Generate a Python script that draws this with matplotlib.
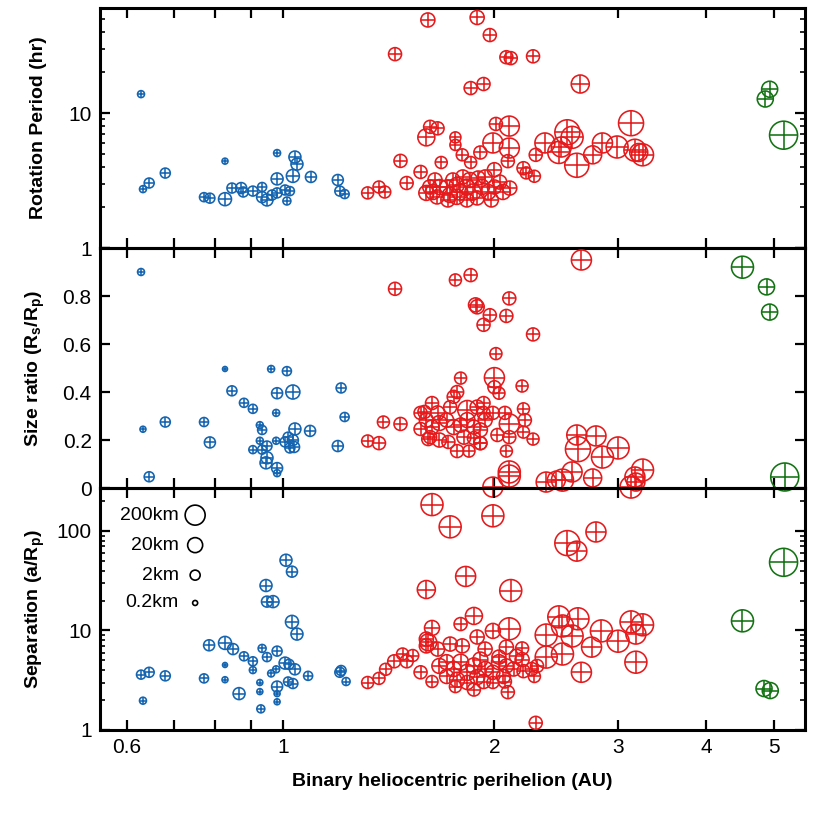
import numpy as np
import matplotlib.pyplot as plt

plt.rcParams['font.family'] = ['Liberation Sans', 'DejaVu Sans']
plt.rcParams['mathtext.fontset'] = 'custom'
plt.rcParams['mathtext.bf'] = 'Liberation Sans:bold'
plt.rcParams['mathtext.rm'] = 'Liberation Sans'
plt.rcParams['mathtext.default'] = 'bf'

BLUE = "#1464b0"
RED = "#e41a1c"
GREEN = "#137313"

# ---- rotation period panel ----
top_nea_q = [0.628, 0.632, 0.645, 0.68, 0.827, 0.772, 0.787, 0.827, 0.846, 0.872,
             0.878, 0.906, 0.934, 0.934, 0.949, 0.965, 0.981, 0.981, 0.981, 1.007,
             1.023, 1.013, 1.033, 1.040, 1.047, 1.096, 1.197, 1.205, 1.224]
top_nea_per = [13.8, 2.73, 3.03, 3.59, 4.4, 2.38, 2.34, 2.3, 2.78, 2.78,
               2.6, 2.64, 2.83, 2.38, 2.27, 2.47, 2.56, 3.25, 5.05, 2.69,
               2.64, 2.23, 3.42, 4.72, 4.18, 3.36, 3.19, 2.64, 2.51]
top_nea_d = [0.5, 0.5, 2, 2, 0.32, 1.3, 2, 8, 2, 3.2,
             2, 2, 1.3, 3.2, 5, 2, 2, 5, 0.5, 2,
             1.3, 0.8, 8, 5, 5, 3.2, 3.2, 2, 1.3]

top_mba_q = [1.32, 1.37, 1.396, 1.47, 1.50, 1.57, 1.60, 1.62, 1.66, 1.608,
             1.444, 1.89, 1.97, 2.08, 2.11, 2.27, 1.85, 1.93, 2.65, 1.68,
             1.76, 1.76, 1.80, 1.85, 1.91, 1.99, 2.01, 2.10, 2.10, 2.09,
             2.0, 2.20, 2.22, 2.28, 2.29, 2.36, 2.47, 2.54, 2.58, 2.49,
             2.62, 2.76, 2.85, 2.99, 3.13, 3.17, 3.25, 3.21,
             1.618, 1.635, 1.646, 1.672, 1.71, 1.728, 1.745, 1.768, 1.785, 1.803,
             1.827, 1.845, 1.864, 1.89, 1.896, 1.92, 1.94, 1.96, 1.98, 2.00,
             2.035, 2.056, 2.103, 1.657, 1.60, 1.717, 1.768, 1.827]
top_mba_per = [2.56, 2.83, 2.6, 4.42, 3.03, 3.66, 6.6, 7.9, 7.7, 48.9,
               27.3, 51, 37.8, 25.9, 25.5, 26.3, 15.3, 16.4, 16.4, 4.3,
               6.6, 5.8, 4.9, 4.3, 5.1, 6.0, 8.3, 8.0, 5.5, 4.4,
               3.8, 3.9, 3.6, 3.4, 4.9, 6.0, 5.1, 7.2, 6.6, 5.6,
               4.1, 4.9, 6.0, 5.6, 8.4, 5.3, 4.9, 5.1,
               2.83, 2.60, 3.19, 2.83, 2.83, 2.47, 3.19, 2.93, 2.60, 3.36,
               2.83, 3.19, 2.60, 2.35, 3.30, 2.83, 3.36, 2.60, 2.27, 2.83,
               3.08, 2.60, 2.78, 2.39, 2.56, 2.27, 2.39, 2.27]
top_mba_d = [5, 5, 5, 8, 8, 8, 50, 8, 8, 13,
             8, 13, 8, 8, 8, 8, 8, 8, 80, 5,
             3.2, 3.2, 5, 5, 8, 200, 8, 200, 200, 8,
             13, 8, 5, 5, 8, 200, 500, 2000, 500, 200,
             1300, 80, 200, 500, 2000, 500, 500, 80,
             13, 20, 13, 20, 13, 20, 13, 20, 32, 13,
             32, 20, 32, 13, 13, 20, 13, 20, 13, 13,
             13, 20, 13, 13, 20, 13, 20, 13]

top_tro_q = [4.93, 4.86, 5.16]
top_tro_per = [15.0, 12.7, 6.85]
top_tro_d = [32, 32, 8000]

# ---- size ratio panel ----
mid_nea_q = [0.628, 0.632, 0.645, 0.68, 0.772, 0.787, 0.827, 0.846, 0.88, 0.906,
             0.927, 0.934, 0.927, 0.906, 0.934, 0.949, 0.949, 0.946, 0.962, 0.978,
             0.981, 0.978, 0.981, 0.981, 1.013, 1.033, 1.007, 1.017, 1.023, 1.033,
             1.037, 1.040, 1.093, 1.21, 1.224, 1.197]
mid_nea_ratio = [0.90, 0.245, 0.047, 0.275, 0.275, 0.19, 0.496, 0.405, 0.355, 0.33,
                 0.262, 0.242, 0.197, 0.16, 0.16, 0.175, 0.126, 0.105, 0.496, 0.313,
                 0.395, 0.197, 0.083, 0.062, 0.487, 0.40, 0.192, 0.212, 0.167, 0.20,
                 0.171, 0.246, 0.238, 0.417, 0.296, 0.175]
mid_nea_d = [0.5, 0.32, 2, 2, 1.3, 3.2, 0.2, 2, 1.3, 1.3,
             0.5, 1.3, 0.5, 0.8, 1.3, 2, 5, 5, 0.5, 0.5,
             3.2, 0.5, 3.2, 0.5, 1.3, 13, 2, 2, 2, 3.2,
             3.2, 5, 3.2, 2, 1.3, 3.2]

mid_mba_q = [1.444, 1.32, 1.37, 1.39, 1.47, 1.57, 1.61, 1.76, 1.85, 2.66,
             1.88, 1.89, 1.97, 1.93, 2.08, 2.10, 2.27, 2.01, 2.00, 2.00,
             2.03, 2.19, 1.79, 1.77, 1.75, 1.63, 1.59, 1.93, 1.83, 2.07,
             2.20, 2.10, 2.21, 2.20, 2.27, 2.10, 2.02, 2.08, 1.91, 1.84,
             1.77,
             1.60, 1.63, 1.67, 1.71, 1.75, 1.79, 1.83, 1.87, 1.91, 1.94,
             1.62, 1.67, 1.72, 1.81, 1.87, 1.91, 1.73, 1.89, 1.93, 1.99,
             1.57, 1.66,
             2.10, 2.10, 1.99, 2.37, 2.45, 2.50, 2.58, 2.76, 2.62, 2.79,
             2.63, 2.85, 3.00, 3.13, 3.17, 3.25, 3.18]
mid_mba_ratio = [0.83, 0.196, 0.187, 0.275, 0.267, 0.246, 0.204, 0.867, 0.887, 0.95,
                 0.763, 0.755, 0.72, 0.68, 0.717, 0.79, 0.64, 0.56, 0.46, 0.42,
                 0.395, 0.425, 0.458, 0.40, 0.38, 0.354, 0.317, 0.354, 0.325, 0.313,
                 0.33, 0.267, 0.283, 0.233, 0.204, 0.212, 0.221, 0.154, 0.187, 0.154,
                 0.154,
                 0.283, 0.254, 0.271, 0.283, 0.254, 0.262, 0.283, 0.254, 0.242, 0.283,
                 0.212, 0.20, 0.192, 0.212, 0.208, 0.187, 0.337, 0.337, 0.313, 0.313,
                 0.313, 0.313,
                 0.067, 0.05, 0.004, 0.025, 0.033, 0.033, 0.067, 0.042, 0.221, 0.217,
                 0.162, 0.129, 0.167, 0.004, 0.046, 0.075, 0.025]
mid_mba_d = [8, 5, 8, 5, 8, 8, 8, 5, 8, 200,
             13, 13, 8, 8, 8, 8, 8, 5, 200, 8,
             5, 5, 5, 8, 8, 8, 8, 8, 130, 8,
             5, 200, 8, 5, 5, 8, 8, 5, 8, 5,
             8,
             13, 13, 20, 13, 20, 13, 20, 13, 13, 13,
             8, 13, 8, 13, 8, 8, 8, 13, 8, 8,
             8, 13,
             500, 500, 200, 200, 80, 500, 200, 80, 200, 200,
             2000, 500, 500, 500, 200, 500, 80]

mid_tro_q = [4.51, 4.88, 4.93, 5.18]
mid_tro_ratio = [0.92, 0.838, 0.733, 0.046]
mid_tro_d = [500, 32, 32, 8000]

# ---- separation panel ----
bot_nea_q = [0.628, 0.645, 0.632, 0.68, 0.772, 0.785, 0.827, 0.849, 0.827, 0.827,
             0.866, 0.88, 0.906, 0.906, 0.934, 0.949, 0.981, 0.978, 0.962, 0.927,
             0.927, 0.930, 0.981, 0.981, 0.981, 0.946, 0.949, 0.968, 1.01, 1.03,
             1.03, 1.047, 1.007, 1.02, 1.04, 1.017, 1.033, 1.086, 1.205, 1.21, 1.23]
bot_nea_sep = [3.6, 3.8, 1.97, 3.5, 3.3, 7.1, 7.5, 6.5, 4.5, 3.2,
               2.32, 5.5, 4.9, 4.0, 6.6, 5.4, 6.2, 4.07, 3.7, 3.0,
               2.43, 1.63, 2.73, 2.32, 1.92, 28.3, 19.5, 19.5, 50.8, 39,
               12.2, 9.2, 4.7, 4.57, 4.07, 3.07, 2.93, 3.5, 3.8, 3.96, 3.07]
bot_nea_d = [1.3, 2, 0.5, 2, 1.3, 3.2, 8, 3.2, 0.2, 0.32,
             5, 1.3, 1.3, 0.5, 0.8, 1.3, 2, 0.5, 0.5, 0.32,
             0.32, 0.8, 3.2, 0.32, 0.32, 5, 3.2, 5, 5, 3.2,
             8, 5, 5, 2, 3.2, 1.3, 2, 1.3, 2, 2, 0.8]

bot_mba_q = [1.63, 1.99, 1.73, 2.54, 2.62, 2.79, 1.82, 1.60, 2.11, 2.47,
             2.63, 2.50, 2.37, 2.10, 1.99, 1.87, 1.79, 1.63, 2.58, 2.84,
             3.00, 3.13, 3.25, 3.18, 3.18, 2.66, 2.50, 2.37, 2.75, 2.29,
             2.09, 2.07, 1.99, 1.32, 1.37, 1.40, 1.44, 1.48, 1.50, 1.53,
             1.57, 1.61, 2.19, 2.20, 2.26, 2.28, 2.30, 1.99, 1.76, 1.63,
             1.67, 1.71, 1.75, 1.79, 1.83, 1.87, 1.91, 1.94, 2.03, 2.08,
             2.15, 1.71, 1.77, 1.83, 1.89, 1.93, 1.66, 1.73, 1.80, 1.89,
             1.94, 2.03, 1.60, 1.60, 2.19, 2.13, 2.08, 2.06, 1.87]
bot_mba_sep = [184, 142, 110, 75.5, 62.7, 97.7, 34.9, 25.8, 25.2, 13.7,
               13.1, 11.1, 9.0, 10.4, 9.9, 14.0, 11.6, 10.6, 8.8, 9.9,
               7.8, 12.2, 11.4, 9.2, 4.8, 3.8, 5.8, 5.4, 6.8, 1.18,
               2.4, 3.07, 3.8, 3.0, 3.3, 4.07, 4.9, 5.8, 4.9, 5.6,
               3.8, 7.6, 6.6, 3.9, 4.1, 3.45, 4.4, 3.0, 2.73, 3.07,
               4.4, 4.8, 4.1, 4.8, 3.8, 4.4, 5.1, 4.1, 4.8, 4.4,
               5.5, 3.45, 3.2, 3.0, 3.4, 3.07, 6.5, 7.3, 7.0, 8.6,
               6.5, 5.4, 7.0, 8.2, 5.1, 4.1, 6.8, 3.45, 2.55]
bot_mba_d = [500, 500, 500, 2000, 200, 200, 200, 80, 500, 500,
             500, 500, 500, 500, 20, 50, 8, 20, 500, 500,
             500, 500, 500, 200, 500, 200, 500, 500, 200, 8,
             8, 8, 13, 5, 5, 5, 8, 5, 8, 5,
             8, 50, 8, 8, 8, 5, 8, 5, 5, 5,
             20, 20, 20, 32, 32, 32, 20, 20, 20, 13,
             13, 13, 20, 13, 20, 13, 13, 13, 13, 13,
             13, 13, 13, 13, 13, 13, 13, 13, 8]

bot_tro_q = [5.16, 4.51, 4.84, 4.94]
bot_tro_sep = [48.4, 12.5, 2.61, 2.49]
bot_tro_d = [8000, 500, 32, 32]

legend_labels = ["200km", "20km", "2km", "0.2km"]
legend_d = [200, 20, 2, 0.2]

xticks = [0.6, 0.7, 0.8, 0.9, 1, 2, 3, 4, 5]
xticklabels = ["0.6", "", "", "", "1", "2", "3", "4", "5"]


def marker_size(d):
    # marker diameter in pixels grows with log(diameter), converted to points^2
    px = 5 + 5 * np.log10(np.asarray(d, dtype=float) / 0.2)
    return (px * 0.72) ** 2


def plot_group(ax, x, y, d, color):
    s = marker_size(d)
    ax.scatter(x, y, s=s, facecolors="none", edgecolors=color, linewidths=1.15, clip_on=False, zorder=3)
    ax.scatter(x, y, s=s, marker="+", c=color, linewidths=1.15, clip_on=False, zorder=3)


fig = plt.figure(figsize=(8.3, 8.3), dpi=100)
ax1 = fig.add_axes([0.1205, 0.7012, 0.849, 0.2892])
ax2 = fig.add_axes([0.1205, 0.4120, 0.849, 0.2892])
ax3 = fig.add_axes([0.1205, 0.1205, 0.849, 0.2915])

plot_group(ax1, top_nea_q, top_nea_per, top_nea_d, BLUE)
plot_group(ax1, top_mba_q, top_mba_per, top_mba_d, RED)
plot_group(ax1, top_tro_q, top_tro_per, top_tro_d, GREEN)

plot_group(ax2, mid_nea_q, mid_nea_ratio, mid_nea_d, BLUE)
plot_group(ax2, mid_mba_q, mid_mba_ratio, mid_mba_d, RED)
plot_group(ax2, mid_tro_q, mid_tro_ratio, mid_tro_d, GREEN)

plot_group(ax3, bot_nea_q, bot_nea_sep, bot_nea_d, BLUE)
plot_group(ax3, bot_mba_q, bot_mba_sep, bot_mba_d, RED)
plot_group(ax3, bot_tro_q, bot_tro_sep, bot_tro_d, GREEN)

for ax in (ax1, ax2, ax3):
    ax.patch.set_visible(False)
    ax.set_xscale("log")
    ax.set_xlim(0.549, 5.53)
    ax.set_xticks(xticks)
    ax.set_xticklabels(xticklabels)
    ax.xaxis.set_minor_locator(plt.NullLocator())
    ax.tick_params(which="major", direction="in", top=True, right=True,
                   length=7, width=1.6, labelsize=15, pad=6)
    ax.tick_params(which="minor", direction="in", top=True, right=True,
                   length=3.5, width=1.2)
    for sp in ax.spines.values():
        sp.set_linewidth(2.2)

ax1.tick_params(labelbottom=False)
ax2.tick_params(labelbottom=False)

ax1.set_yscale("log")
ax1.set_ylim(1, 60)
ax1.set_yticks([1, 10])
ax1.set_yticklabels(["1", "10"])

ax2.set_ylim(0, 1)
ax2.set_yticks([0, 0.2, 0.4, 0.6, 0.8, 1.0])
ax2.set_yticklabels(["0", "0.2", "0.4", "0.6", "0.8", ""])

ax3.set_yscale("log")
ax3.set_ylim(1, 270)
ax3.set_yticks([1, 10, 100])
ax3.set_yticklabels(["1", "10", "100"])

lab = dict(fontsize=14, fontweight="bold")
ax1.set_ylabel("Rotation Period (hr)", **lab)
ax2.set_ylabel(r"Size ratio (R$_s$/R$_p$)", **lab)
ax3.set_ylabel(r"Separation (a/R$_p$)", **lab)
for ax in (ax1, ax2, ax3):
    ax.yaxis.set_label_coords(-0.075, 0.5)
ax3.set_xlabel("Binary heliocentric perihelion (AU)", labelpad=11, **lab)

# size legend
leg_y = [0.888, 0.764, 0.640, 0.525]
for txt, d, yy in zip(legend_labels, legend_d, leg_y):
    ax3.text(0.112, yy, txt, transform=ax3.transAxes, ha="right", va="center", fontsize=14)
    ax3.scatter([0.135], [yy], s=marker_size([d]), facecolors="none", edgecolors="black",
                linewidths=1.2, transform=ax3.transAxes, clip_on=False, zorder=4)

fig.savefig("out.png", dpi=100)
